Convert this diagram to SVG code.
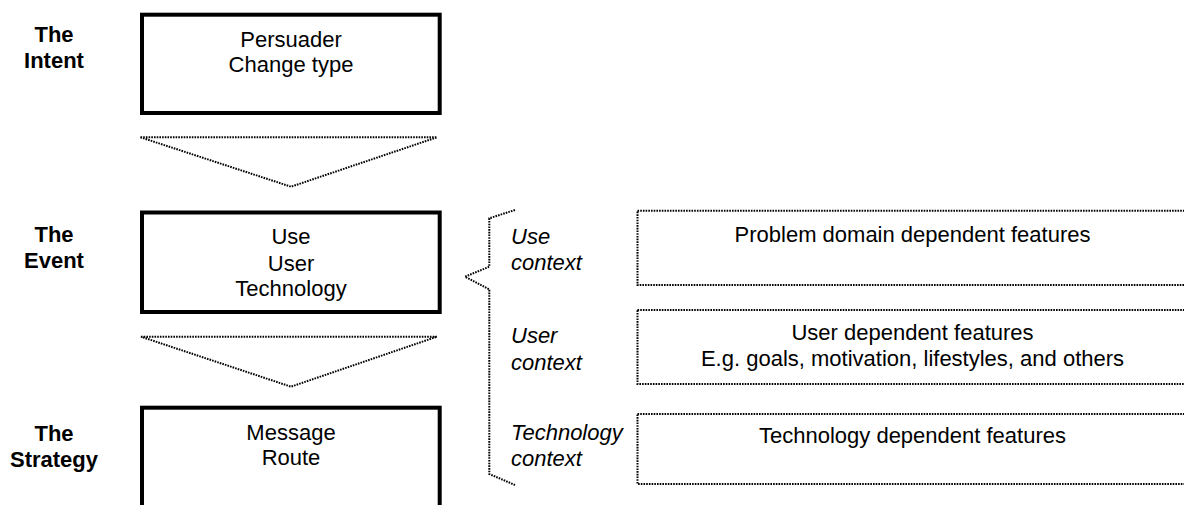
<svg xmlns="http://www.w3.org/2000/svg" width="1184" height="505" viewBox="0 0 1184 505">
<style>
text{font-family:"Liberation Sans",Arial,sans-serif;font-size:22px;fill:#000}
.lbl{font-weight:bold;text-anchor:middle}
.c{text-anchor:middle}
.it{font-style:italic}
.thick{fill:none;stroke:#000;stroke-width:4}
.dot{fill:none;stroke:#000;stroke-width:2;stroke-dasharray:1.6 1.1}
</style>
<rect width="1184" height="505" fill="#fff"/>
<g id="label-intent"><text class="lbl" x="54" y="42">The</text><text class="lbl" x="54" y="68">Intent</text></g>
<g id="label-event"><text class="lbl" x="54" y="242">The</text><text class="lbl" x="54" y="268">Event</text></g>
<g id="label-strategy"><text class="lbl" x="54" y="441">The</text><text class="lbl" x="54" y="467">Strategy</text></g>
<g id="intent"><rect class="thick" x="142" y="14.7" width="297.7" height="98.3"/><text class="c" x="291" y="47">Persuader</text><text class="c" x="291" y="72">Change type</text></g>
<g id="event"><rect class="thick" x="142" y="212.5" width="297.7" height="99.5"/><text class="c" x="291" y="244">Use</text><text class="c" x="291" y="270.5">User</text><text class="c" x="291" y="296">Technology</text></g>
<g id="strategy"><rect class="thick" x="142" y="407.7" width="297.7" height="120"/><text class="c" x="291" y="439.5">Message</text><text class="c" x="291" y="465">Route</text></g>
<g id="connectors">
<polygon class="dot" points="140.5,137.3 437,137.3 291,186.7"/>
<polygon class="dot" points="141,336.7 437,336.7 291,386.7"/>
<polyline class="dot" points="515,210 489.3,218.3 489.3,266.7 465,276.7 489.3,289.3 489.3,474 515,485"/>
</g>
<g id="contexts">
<text class="it" x="511" y="244.3">Use</text><text class="it" x="511" y="270">context</text>
<text class="it" x="511" y="343.3">User</text><text class="it" x="511" y="370">context</text>
<text class="it" x="511" y="440">Technology</text><text class="it" x="511" y="465.5">context</text>
</g>
<g id="problem-features"><rect class="dot" x="637.5" y="210.7" width="552" height="74.3"/><text class="c" x="912.5" y="242">Problem domain dependent features</text></g>
<g id="user-features"><rect class="dot" x="637.5" y="310" width="552" height="74"/><text class="c" x="912.5" y="340">User dependent features</text><text class="c" x="912.5" y="366">E.g. goals, motivation, lifestyles, and others</text></g>
<g id="tech-features"><rect class="dot" x="637.5" y="414" width="552" height="70"/><text class="c" x="912.5" y="443">Technology dependent features</text></g>
</svg>
